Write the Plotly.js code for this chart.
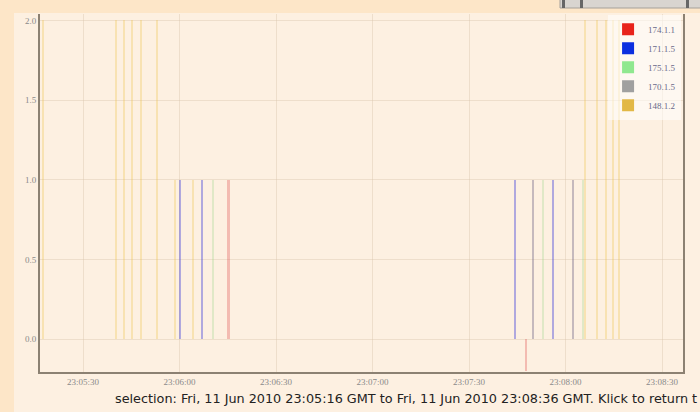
<!DOCTYPE html>
<html>
<head>
<meta charset="utf-8">
<script src="https://cdn.plot.ly/plotly-3.0.1.min.js"></script>
<style>
html,body{margin:0;padding:0;background:#fdf0e1;}
#chart{width:700px;height:412px;}
</style>
</head>
<body>
<div id="chart"></div>
<script>
// ---- data ----
const seriesNames = ["174.1.1", "171.1.5", "175.1.5", "170.1.5", "148.1.2"];

const t174 = ["2010-06-11 23:06:15.1", "2010-06-11 23:07:47.7"];
const v174 = [1, -0.2];

const t171 = ["2010-06-11 23:06:00.2", "2010-06-11 23:06:07.0", "2010-06-11 23:07:44.3", "2010-06-11 23:07:56.1"];
const v171 = [1, 1, 1, 1];

const t175 = ["2010-06-11 23:06:10.4", "2010-06-11 23:07:53.0", "2010-06-11 23:08:05.4"];
const v175 = [1, 1, 1];

const t170 = ["2010-06-11 23:07:49.9", "2010-06-11 23:08:02.3"];
const v170 = [1, 1];

const t148 = ["2010-06-11 23:05:17.6", "2010-06-11 23:05:40.3", "2010-06-11 23:05:42.7", "2010-06-11 23:05:45.2",
              "2010-06-11 23:05:48.0", "2010-06-11 23:05:53.0", "2010-06-11 23:05:58.6", "2010-06-11 23:06:04.2",
              "2010-06-11 23:08:06.0", "2010-06-11 23:08:09.8", "2010-06-11 23:08:12.6", "2010-06-11 23:08:14.7",
              "2010-06-11 23:08:16.6"];
const v148 = [2, 2, 2, 2, 2, 2, 1, 1, 2, 2, 2, 2, 2];

const xRange = ["2010-06-11 23:05:16.6", "2010-06-11 23:08:36.5"];
const caption = "selection: Fri, 11 Jun 2010 23:05:16 GMT to Fri, 11 Jun 2010 23:08:36 GMT. Klick to return t";

// ---- styles ----
const solid = ["#e8231b", "#0b2fe0", "#8fe88f", "#a0a0a0", "#e2b846"];
const faded = ["rgba(225,100,100,0.38)", "rgba(70,70,220,0.42)", "rgba(160,215,140,0.3)", "rgba(120,110,140,0.42)", "rgba(238,195,80,0.32)"];
const times = [t174, t171, t175, t170, t148];
const vals = [v174, v171, v175, v170, v148];
const widths = [900, 700, 700, 700, 700];

const traces = [];
for (let i = 0; i < seriesNames.length; i++) {
  traces.push({
    type: "bar", x: times[i], y: vals[i], width: widths[i],
    marker: {color: faded[i], line: {width: 0}},
    showlegend: false, hoverinfo: "skip", name: seriesNames[i]
  });
}
for (let i = 0; i < seriesNames.length; i++) {
  traces.push({
    type: "bar", x: [null], y: [null], name: seriesNames[i],
    marker: {color: solid[i], line: {width: 0}}, showlegend: true
  });
}

const px = v => (v - 40) / 643;
const py = v => (372 - v) / 358;

const layout = {
  width: 700, height: 412,
  margin: {l: 40, r: 17, t: 14, b: 40},
  paper_bgcolor: "#fdf0e1",
  plot_bgcolor: "#fdf0e1",
  barmode: "overlay",
  bargap: 0,
  xaxis: {
    type: "date", range: xRange,
    tick0: "2010-06-11 23:05:00", dtick: 30000, tickformat: "%H:%M:%S",
    showgrid: true, gridcolor: "rgba(215,195,170,0.4)", gridwidth: 1,
    showline: true, linecolor: "#8c8172", linewidth: 2, mirror: false,
    ticks: "", zeroline: false,
    tickfont: {family: "Liberation Serif", size: 9, color: "#8a8a8a"}
  },
  yaxis: {
    range: [-0.205, 2.04], tick0: 0, dtick: 0.5, tickformat: ".1f",
    showgrid: true, gridcolor: "rgba(215,195,170,0.4)", gridwidth: 1,
    showline: true, linecolor: "#8c8172", linewidth: 2, mirror: true,
    ticks: "", zeroline: false,
    tickfont: {family: "Liberation Serif", size: 9, color: "#8a8a8a"}
  },
  legend: {
    x: 0.997, xanchor: "right", y: 0.998, yanchor: "top",
    bgcolor: "rgba(255,255,255,0.55)", borderwidth: 0,
    font: {family: "Liberation Serif", size: 9, color: "#6a6a8a"},
    tracegroupgap: 0
  },
  shapes: [
    {type: "rect", xref: "paper", yref: "paper", layer: "below",
     x0: px(0), x1: px(700), y0: py(13), y1: py(0), fillcolor: "#fde6c8", line: {width: 0}},
    {type: "rect", xref: "paper", yref: "paper", layer: "below",
     x0: px(0), x1: px(14), y0: py(412), y1: py(0), fillcolor: "#fde6c8", line: {width: 0}},
    {type: "rect", xref: "paper", yref: "paper",
     x0: px(560), x1: px(702), y0: py(8), y1: py(-2), fillcolor: "#d9d5d0", line: {color: "#a5a09a", width: 1}},
    {type: "rect", xref: "paper", yref: "paper",
     x0: px(562), x1: px(565), y0: py(8), y1: py(0), fillcolor: "#666", line: {width: 0}},
    {type: "rect", xref: "paper", yref: "paper",
     x0: px(580), x1: px(583), y0: py(8), y1: py(0), fillcolor: "#666", line: {width: 0}},
    {type: "rect", xref: "paper", yref: "paper",
     x0: px(686), x1: px(689), y0: py(8), y1: py(0), fillcolor: "#666", line: {width: 0}}
  ],
  annotations: [
    {xref: "paper", yref: "paper", x: px(113), y: py(398), xanchor: "left", yanchor: "middle",
     text: caption, showarrow: false,
     font: {family: "DejaVu Sans", size: 12.8, color: "#222"}}
  ]
};

Plotly.newPlot("chart", traces, layout, {displayModeBar: false, staticPlot: true});
</script>
</body>
</html>
